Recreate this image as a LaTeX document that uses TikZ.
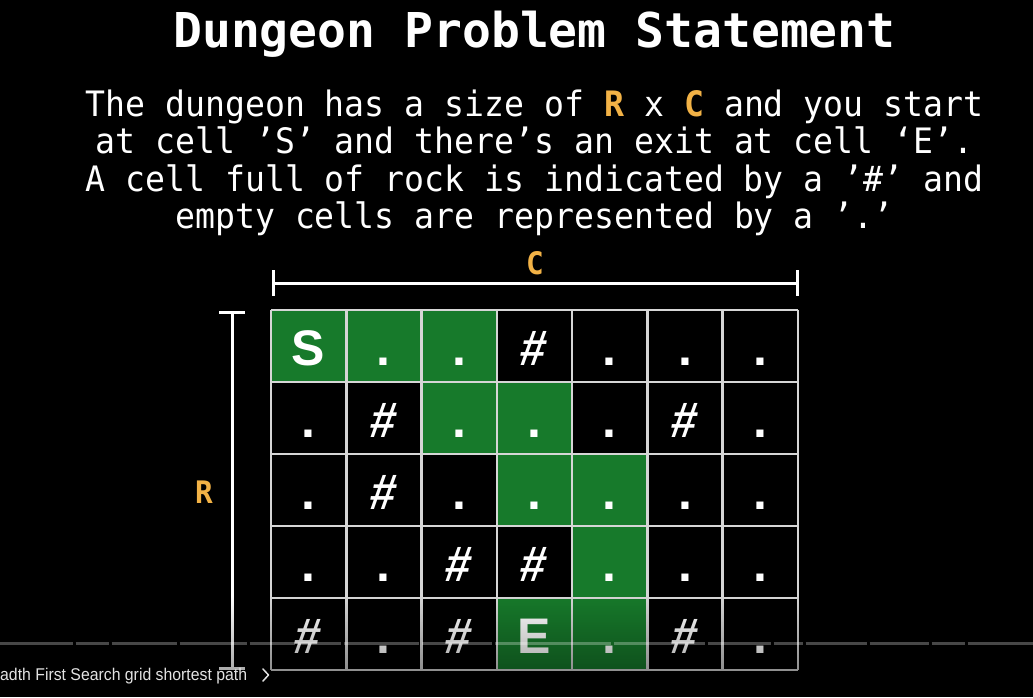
\documentclass[tikz,border=0pt]{standalone}
\usepackage{fontspec}
\usetikzlibrary{fadings,calc}
\newfontfamily\titlefont{DejaVu Sans Mono}
\newfontfamily\bodyfont[FakeStretch=0.947]{DejaVu Sans Mono}
\newfontfamily\cellfont{Liberation Sans}
\newfontfamily\rockfont[FakeSlant=0.16,FakeStretch=0.92]{Liberation Sans}
\newfontfamily\uifont[FakeStretch=0.93]{Liberation Sans}
\definecolor{orng}{RGB}{242,178,70}
\definecolor{pathgreen}{RGB}{23,122,43}
\definecolor{gridgray}{RGB}{214,214,214}
\definecolor{uitext}{RGB}{226,226,226}
\newcommand{\rock}{{\rockfont\bfseries\hspace*{-6pt}\#}}
\tikzset{
  bodyline/.style={anchor=base, inner sep=0, text=white, font=\bodyfont\fontsize{35}{35}\selectfont},
  cellfill/.style={rectangle, inner sep=0, minimum width=75.2857pt, minimum height=72pt, fill=pathgreen},
  cellbox/.style={rectangle, inner sep=0, minimum width=75.2857pt, minimum height=72pt},
  celltext/.style={anchor=base, inner sep=0, text=white, font=\cellfont\bfseries\fontsize{50}{50}\selectfont},
  gridline/.style={draw=gridgray, line width=2.6pt},
  bracket/.style={draw=white, line width=3pt},
  dimlabel/.style={anchor=base, inner sep=0, text=orng, font=\bodyfont\bfseries\fontsize{31}{31}\selectfont},
  chapterbar/.style={draw=white, draw opacity=0.28, line width=3pt},
}
\begin{document}
\begin{tikzpicture}[x=1pt,y=-1pt]
\fill[black] (0,0) rectangle (1033,697);
\useasboundingbox (0,0) rectangle (1033,697);

% title
\node[anchor=base, inner sep=0, text=white] (title) at (534.5,47)
  {\titlefont\bfseries\fontsize{48}{48}\selectfont Dungeon Problem Statement};

% body text
\node[bodyline] (l1) at (534.5,116) {The dungeon has a size of {\bfseries\color{orng}R} x {\bfseries\color{orng}C} and you start};
\node[bodyline] (l2) at (534.5,153) {at cell ’S’ and there’s an exit at cell ‘E’.};
\node[bodyline] (l3) at (534.5,191) {A cell full of rock is indicated by a ’\#’ and};
\node[bodyline] (l4) at (534.5,228) {empty cells are represented by a ’.’};

% green path cells
\foreach \r/\c in {0/0,0/1,0/2,1/2,1/3,2/3,2/4,3/4,4/3,4/4}{
  \node[cellfill] (g\r\c) at ({271+75.2857*(\c+0.5)},{310+72*(\r+0.5)}) {};
}

% grid lines
\foreach \i in {0,...,7}{
  \draw[gridline] ({271+75.2857*\i},310) -- ({271+75.2857*\i},670);
}
\foreach \j in {0,...,5}{
  \draw[gridline] (271,{310+72*\j}) -- (798,{310+72*\j});
}

% cell contents
\foreach \row [count=\r from 0] in {{S,.,.,\rock,.,.,.},{.,\rock,.,.,.,\rock,.},{.,\rock,.,.,.,.,.},{.,.,\rock,\rock,.,.,.},{\rock,.,\rock,E,.,\rock,.}}{
  \foreach \t [count=\c from 0] in \row {
    \node[cellbox] (c\r\c) at ({271+75.2857*(\c+0.5)},{310+72*(\r+0.5)}) {};
    \node[celltext] (t\r\c) at ($(c\r\c.south)+(0,-17)$) {\t};
  }
}

% C bracket
\coordinate (cl) at (273,283);
\coordinate (cr) at (797,283);
\draw[bracket] (cl) -- (cr);
\draw[bracket] ($(cl)+(0,-13)$) -- ($(cl)+(0,13)$);
\draw[bracket] ($(cr)+(0,-13)$) -- ($(cr)+(0,13)$);
\node[dimlabel] (clabel) at (535,274) {C};

% R bracket
\coordinate (rt) at (232,312);
\coordinate (rb) at (232,668);
\draw[bracket] (rt) -- (rb);
\draw[bracket] ($(rt)+(-13,0)$) -- ($(rt)+(13,0)$);
\draw[bracket] ($(rb)+(-13,0)$) -- ($(rb)+(13,0)$);
\node[dimlabel] (rlabel) at (204,503) {R};

% bottom dimming overlay
\fill[black, fill opacity=0.45, path fading=north] (0,595) rectangle (1033,697);

% chapter bar
\foreach \a/\b in {0/72.5,75.5/108.5,111.5/176.5,179.5/246.5,249.5/294.5,297.5/340.5,343.5/418.5,421.5/491.5,494.5/610.5,613.5/704.5,707.5/770.5,773.5/802.5,805.5/866.5,869.5/928.5,931.5/964.5,967.5/1033}{
  \draw[chapterbar] (\a,643) -- (\b,643);
}

% chapter title
\node[anchor=base west, inner sep=0, text=uitext] (chap) at (0,680)
  {\uifont\fontsize{17}{17}\selectfont adth First Search grid shortest path};
\coordinate (chev) at (263,675);
\draw[uitext, line width=1.5pt, line cap=round, line join=round]
  ($(chev)+(0,-6)$) -- ($(chev)+(5.5,0)$) -- ($(chev)+(0,6)$);
\end{tikzpicture}
\end{document}
